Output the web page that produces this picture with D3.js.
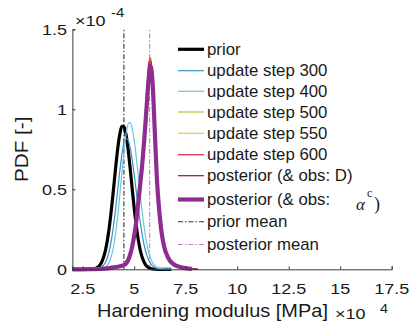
<!DOCTYPE html>
<html><head><meta charset="utf-8">
<script src="https://cdn.jsdelivr.net/npm/d3@7"></script>
<style>
html,body{margin:0;padding:0;background:#fff;}
svg{display:block;font-family:"Liberation Sans",Arial,Helvetica,sans-serif;}
</style></head><body>
<svg id="chart" width="411" height="329"></svg>
<script>
// Hardening modulus grid (×10^4 MPa) and PDF values (×10^-4)
const xGrid = [2.0, 2.5, 3.0, 3.1, 3.2, 3.3, 3.4, 3.5, 3.6, 3.7, 3.8, 3.9, 4.0, 4.1, 4.2, 4.3, 4.4, 4.5, 4.6, 4.7, 4.8, 4.9, 5.0, 5.1, 5.2, 5.3, 5.4, 5.5, 5.6, 5.7, 5.8, 5.9, 6.0, 6.1, 6.2, 6.3, 6.4, 6.5, 6.6, 6.7, 6.8, 6.9, 7.0, 7.4, 7.8, 8.1];

const priorPdf = [0, 0, 0.002, 0.005, 0.011, 0.021, 0.040, 0.070, 0.116, 0.183, 0.272, 0.382, 0.507, 0.636, 0.754, 0.844, 0.894, 0.894, 0.844, 0.754, 0.636, 0.507, 0.382, 0.272, 0.183, 0.116, 0.070, 0.040, 0.021, 0.011, 0.005, 0.002, 0.001, 0, 0, 0, 0, 0, 0, 0, 0, null, null, null, null, null];
const step300Pdf = [0, 0, 0.0005, 0.001, 0.003, 0.006, 0.012, 0.023, 0.043, 0.074, 0.122, 0.189, 0.276, 0.381, 0.497, 0.613, 0.715, 0.787, 0.819, 0.808, 0.762, 0.686, 0.591, 0.487, 0.383, 0.288, 0.207, 0.142, 0.093, 0.059, 0.035, 0.020, 0.011, 0.006, 0.004, 0.003, 0.002, 0.002, 0.001, 0.001, 0, null, null, null, null, null];
const step400Pdf = [0, 0, 0.0001, 0.0002, 0.0004, 0.001, 0.003, 0.006, 0.013, 0.026, 0.049, 0.086, 0.144, 0.226, 0.333, 0.461, 0.600, 0.733, 0.841, 0.906, 0.918, 0.882, 0.807, 0.703, 0.583, 0.460, 0.345, 0.247, 0.168, 0.109, 0.067, 0.039, 0.022, 0.012, 0.007, 0.004, 0.003, 0.002, 0.002, 0.001, 0, null, null, null, null, null];
const step500Pdf = [0, 0, 0.001, 0.001, 0.002, 0.002, 0.003, 0.004, 0.005, 0.006, 0.008, 0.010, 0.012, 0.015, 0.018, 0.022, 0.027, 0.034, 0.048, 0.075, 0.115, 0.170, 0.245, 0.340, 0.460, 0.590, 0.730, 0.900, 1.080, 1.250, 1.290, 1.120, 0.830, 0.550, 0.370, 0.250, 0.170, 0.115, 0.080, 0.056, 0.040, 0.030, 0.022, 0.008, 0.003, 0];
const step550Pdf = [0, 0, 0.001, 0.001, 0.002, 0.002, 0.003, 0.004, 0.005, 0.006, 0.008, 0.010, 0.012, 0.014, 0.016, 0.019, 0.023, 0.028, 0.038, 0.058, 0.094, 0.145, 0.215, 0.305, 0.425, 0.550, 0.690, 0.860, 1.050, 1.260, 1.310, 1.170, 0.890, 0.600, 0.410, 0.280, 0.190, 0.130, 0.092, 0.066, 0.049, 0.037, 0.028, 0.011, 0.004, 0];
const step600Pdf = [0, 0, 0.001, 0.001, 0.002, 0.002, 0.003, 0.004, 0.005, 0.006, 0.008, 0.010, 0.012, 0.014, 0.016, 0.019, 0.022, 0.026, 0.035, 0.053, 0.088, 0.138, 0.208, 0.298, 0.418, 0.545, 0.690, 0.870, 1.070, 1.290, 1.320, 1.160, 0.890, 0.610, 0.420, 0.290, 0.200, 0.138, 0.098, 0.070, 0.052, 0.040, 0.030, 0.012, 0.005, 0];
const postDPdf = [0, 0, 0.001, 0.001, 0.002, 0.002, 0.003, 0.004, 0.005, 0.006, 0.008, 0.010, 0.012, 0.014, 0.016, 0.019, 0.022, 0.026, 0.034, 0.052, 0.086, 0.135, 0.205, 0.295, 0.412, 0.535, 0.670, 0.840, 1.030, 1.230, 1.300, 1.170, 0.880, 0.590, 0.405, 0.275, 0.186, 0.127, 0.090, 0.064, 0.047, 0.036, 0.027, 0.010, 0.004, 0];
const postAlphaPdf = [0, 0, 0.001, 0.001, 0.002, 0.002, 0.003, 0.004, 0.005, 0.006, 0.008, 0.010, 0.012, 0.014, 0.016, 0.019, 0.022, 0.027, 0.036, 0.055, 0.090, 0.140, 0.210, 0.300, 0.420, 0.540, 0.670, 0.830, 1.010, 1.190, 1.270, 1.150, 0.860, 0.570, 0.390, 0.260, 0.175, 0.120, 0.085, 0.060, 0.044, 0.033, 0.025, 0.009, 0.002, null];

const priorMean = 4.5;
const posteriorMean = 5.75;

const xTicks = [2.5, 5, 7.5, 10, 12.5, 15, 17.5];
const xTickLabels = ["2.5", "5", "7.5", "10", "12.5", "15", "17.5"];
const yTicks = [0, 0.5, 1, 1.5];
const yTickLabels = ["0", "0.5", "1", "1.5"];

const legendLabels = ["prior", "update step 300", "update step 400", "update step 500",
  "update step 550", "update step 600", "posterior (& obs: D)", "posterior (& obs:",
  "prior mean", "posterior mean"];

// ---- drawing ----
const series = [
  { values: priorPdf,     color: "#000000", width: 3.2 },
  { values: step300Pdf,   color: "#3a8fc2", width: 1.2 },
  { values: step400Pdf,   color: "#6cc3e6", width: 1.2 },
  { values: step500Pdf,   color: "#b3c43a", width: 1.2 },
  { values: step550Pdf,   color: "#f4c243", width: 1.2 },
  { values: step600Pdf,   color: "#d62341", width: 1.2 },
  { values: postDPdf,     color: "#8b1a32", width: 1.2 },
  { values: postAlphaPdf, color: "#8f2c8f", width: 4.2 }
];
const meanStyles = [
  { value: priorMean, color: "#333333" },
  { value: posteriorMean, color: "#c27fc2" }
];
const dashDot = "5,2,1.5,2";

const svg = d3.select("#chart");
const x = d3.scaleLinear().domain([2, 17.5]).range([72.4, 391.7]);
const y = d3.scaleLinear().domain([0, 1.5]).range([269.3, 29.3]);
const axisColor = "#3a3a3a";

function label(g, txt, px, py, size, sx, anchor, rot) {
  const t = g.append("text")
    .attr("transform", `translate(${px},${py})` + (rot ? ` rotate(${rot})` : "") + ` scale(${sx},1)`)
    .attr("font-size", size)
    .attr("fill", "#1a1a1a")
    .attr("text-anchor", anchor || "start")
    .text(txt);
  return t;
}

// mean lines
meanStyles.forEach(m => {
  svg.append("line")
    .attr("x1", x(m.value)).attr("x2", x(m.value))
    .attr("y1", y(0)).attr("y2", y(1.5))
    .attr("stroke", m.color).attr("stroke-width", 1.1)
    .attr("stroke-dasharray", dashDot);
});

// density curves
const line = d3.line()
  .defined((d) => d[1] !== null)
  .x(d => x(d[0])).y(d => y(d[1]))
  .curve(d3.curveMonotoneX);
series.forEach(s => {
  const pts = xGrid.map((v, i) => [v, s.values[i]]);
  svg.append("path")
    .attr("d", line(pts))
    .attr("fill", "none")
    .attr("stroke", s.color)
    .attr("stroke-width", s.width)
    .attr("stroke-linejoin", "round");
});

// axes (ticks point inward)
const xAxis = d3.axisBottom(x).tickValues(xTicks).tickSize(-3).tickFormat("");
const yAxis = d3.axisLeft(y).tickValues(yTicks).tickSize(-3).tickFormat("");
const gx = svg.append("g").attr("transform", `translate(0,${y(0)})`).call(xAxis);
const gy = svg.append("g").attr("transform", `translate(${x(2)},0)`).call(yAxis);
[gx, gy].forEach(g => {
  g.select(".domain").attr("stroke", axisColor).attr("stroke-width", 1);
  g.selectAll(".tick line").attr("stroke", axisColor).attr("stroke-width", 1);
});

const txt = svg.append("g");
xTicks.forEach((v, i) => label(txt, xTickLabels[i], x(v), 294, 15, 1.2, "middle"));
yTicks.forEach((v, i) => label(txt, yTickLabels[i], 67, y(v) + 5.4, 15, 1.2, "end"));

// exponent markers
label(txt, "\u00d710", 75, 26, 15, 1.2, "start");
label(txt, "-4", 111, 17, 13, 1.15, "start");
label(txt, "\u00d710", 335, 319, 15, 1.2, "start");
label(txt, "4", 380, 313, 12.5, 1.15, "start");

// axis titles
label(txt, "Hardening modulus [MPa]", 97, 316.5, 18.5, 1.08, "start");
label(txt, "PDF [-]", 28, y(0.75), 18.5, 1.12, "middle", -90);

// legend
const legendRowY = [49.3, 70.7, 91.3, 112, 133.3, 154.7, 175.7, 199.5, 221.7, 244.5];
const legendEntries = series.map(s => ({ color: s.color, width: s.width, dash: null }))
  .concat(meanStyles.map(m => ({ color: m.color, width: 1.1, dash: dashDot })));
const lg = svg.append("g");
legendEntries.forEach((e, i) => {
  const ly = legendRowY[i];
  lg.append("line")
    .attr("x1", 178).attr("x2", 204).attr("y1", ly).attr("y2", ly)
    .attr("stroke", e.color).attr("stroke-width", e.width)
    .attr("stroke-dasharray", e.dash);
  label(lg, legendLabels[i], 207, ly + 5.6, 16, 1.05, "start");
});
// math part of the alpha legend entry
lg.append("text").attr("x", 356).attr("y", 210)
  .attr("font-family", "'Liberation Serif','Times New Roman',serif")
  .attr("font-style", "italic").attr("font-size", 17).attr("fill", "#1a1a1a").text("\u03b1");
lg.append("text").attr("x", 367).attr("y", 197)
  .attr("font-family", "'Liberation Serif','Times New Roman',serif")
  .attr("font-size", 12).attr("fill", "#1a1a1a").text("c");
lg.append("text").attr("x", 374).attr("y", 210)
  .attr("font-family", "'Liberation Serif','Times New Roman',serif")
  .attr("font-size", 18).attr("fill", "#1a1a1a").text(")");
</script>
</body></html>
